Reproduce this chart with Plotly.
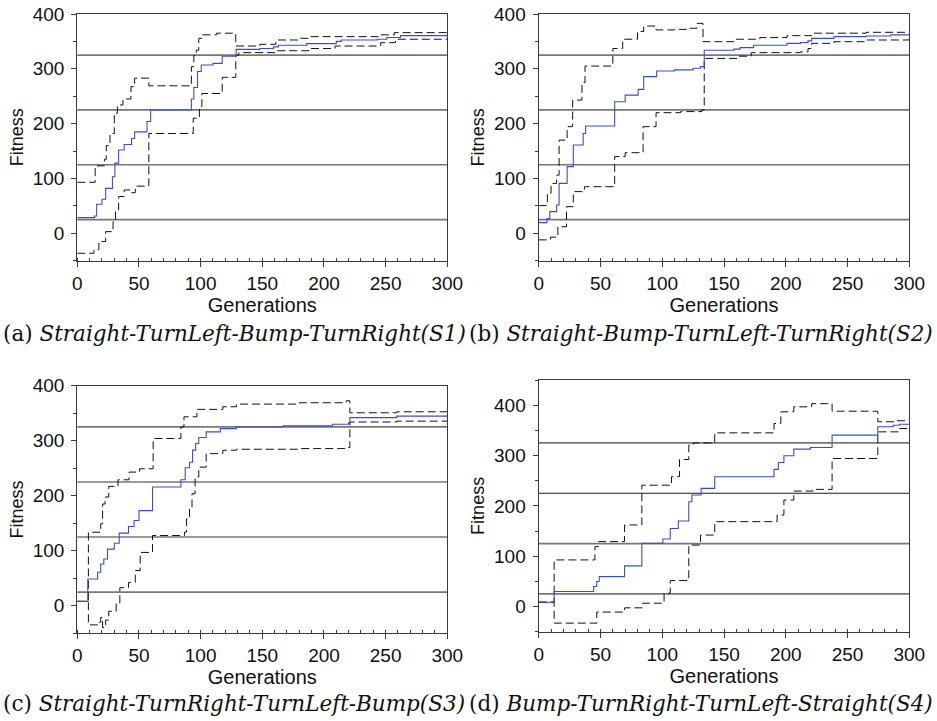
import plotly.graph_objects as go

# ---------------- data ----------------
thresholds = [25, 125, 225, 325]

a_mean_x = [0, 14, 15.7, 20, 23, 28.5, 30.5, 33.5, 38, 44, 46.5, 56.5, 59.5, 92.5, 94.5, 97.5, 100.5, 110, 117.5, 128.8, 148, 159, 163, 186, 210, 214, 243, 251, 262, 300]
a_mean_y = [28.6, 31.6, 53, 62, 82, 103, 128, 152, 162, 173, 185, 204, 225, 245, 266, 295, 307, 310, 323, 335.5, 337, 340, 343, 346, 350, 352.6, 354, 357, 360.5, 362]
a_up_x = [0, 14.5, 22, 23.5, 26.5, 30, 32.5, 37, 43.5, 46.5, 58, 92.5, 94.5, 96.5, 98.5, 101.5, 113, 128.5, 148, 161, 179, 188, 245, 257, 300]
a_up_y = [93, 123, 135, 160, 182, 219, 234, 245, 267.5, 283, 269, 304, 325, 334, 355.6, 362, 365, 341.6, 344.7, 352.6, 355.6, 358.7, 362, 366, 367.8]
a_lo_x = [0, 13.5, 17.5, 23, 29, 31, 33.5, 38, 43, 47, 58, 94, 99, 101, 117.5, 128.5, 131, 161, 188, 209, 246, 258, 300]
a_lo_y = [-36.5, -30, -15, 3, 21, 42.5, 67, 79, 74, 86, 182, 210, 231, 255, 284.5, 325, 329.5, 333, 337, 341.6, 347.7, 354, 355.6]

b_mean_x = [0, 6.7, 9, 14.5, 16.5, 23, 28, 36, 38, 61.5, 70, 80.5, 85, 95.5, 110, 125, 131, 134, 158, 163, 174, 201, 212, 218, 221, 239, 265, 285, 300]
b_mean_y = [19.5, 27, 39.5, 51.7, 91, 121.6, 161, 182, 195.7, 240, 252, 262.6, 285.7, 296, 298, 301, 304, 334, 336, 338.6, 343, 346.5, 348, 351, 355.6, 358.7, 360, 362, 363]
b_up_x = [0, 7, 10, 14.5, 16.5, 23, 27.5, 35, 37.5, 60, 68, 80, 85, 95, 110, 120, 128, 133, 158, 179, 201, 221, 265, 300]
b_up_y = [50.5, 73, 91, 106, 170, 194.5, 243, 275, 305, 337, 354, 368, 378, 371, 372, 374, 383, 349.5, 354, 357, 360.5, 365, 366.6, 367.8]
b_lo_x = [0, 9.5, 15.5, 22.5, 28, 37, 61.5, 70, 84.5, 95, 115, 132, 134, 160.5, 172, 212, 218, 221, 239, 265, 300]
b_lo_y = [-12, -7, 12, 48.6, 76, 85, 140, 147, 194.5, 220, 222, 225, 319, 323, 329.5, 331, 337, 346.5, 349.5, 352.6, 357.4]

c_mean_x = [0, 8.5, 16.5, 19, 21.5, 24.5, 30, 34, 41.5, 46, 50, 61, 84, 87.5, 91, 93.5, 96, 98.5, 104.5, 116, 129, 167, 207, 220, 221, 259, 300]
c_mean_y = [8, 48.6, 61, 76, 85, 103, 113.7, 132, 144, 155, 173, 216, 229, 251, 261, 283, 295, 305.8, 316, 322, 325, 327, 330, 332.5, 342, 344.7, 347.7]
c_up_x = [0, 9, 19, 20.5, 22.5, 25.5, 33, 42, 50.5, 61.5, 84, 86.5, 97, 118, 129, 180, 218, 221, 259, 300]
c_up_y = [8, 133.7, 149, 185, 197.6, 217, 229, 243, 249, 304, 325, 343.5, 357, 361.7, 366.6, 369, 372.6, 350.8, 352.6, 357]
c_lo_x = [0, 9, 17, 19, 20.5, 23, 25.5, 31.5, 34.5, 41.5, 47, 51, 61, 87, 88.5, 91, 93, 95.5, 98.5, 104.5, 118, 129, 180, 219.5, 221, 259, 300]
c_lo_y = [8, -34.7, -30, -21, -39.5, -26, -10, 4, 33, 42.5, 64, 97, 127.7, 133.7, 158, 179, 203.6, 234, 252, 276.6, 282.7, 284.5, 285.7, 287.5, 334, 335.6, 338.6]

d_mean_x = [0, 12.5, 44.5, 47, 49, 69.5, 83.5, 100.5, 106.5, 113, 121.5, 124, 131.5, 142.5, 190.5, 194, 198.5, 206.5, 220, 237.5, 274.5, 287, 292, 300]
d_mean_y = [8.6, 29.8, 39.7, 49.6, 59.5, 80.7, 125.6, 134, 155, 170, 208, 221.5, 234.7, 257.9, 272.4, 286, 299.5, 312.7, 316, 340.5, 357, 360, 362, 362]
d_up_x = [0, 12.5, 45.5, 48.5, 69.5, 83.5, 107.5, 114, 121.5, 125, 142.5, 190.5, 196, 206.5, 221, 237.5, 274.5, 289, 300]
d_up_y = [8.6, 92.6, 119, 129, 162, 241, 258, 292, 320.7, 325, 345, 363.6, 386.8, 396.7, 403, 388, 367, 369, 369]
d_lo_x = [0, 12.5, 47, 69.5, 84, 101.5, 106.5, 121.5, 131, 142.5, 193, 198.5, 206.5, 222, 237.5, 274.5, 292, 300]
d_lo_y = [8.6, -33, -11, -2.6, 6.6, 26.4, 51.6, 122, 142, 168.6, 181.8, 211.6, 229.4, 232.7, 294, 347, 353.7, 353.7]

captions = [
    "(a) <i>Straight-TurnLeft-Bump-TurnRight(S1)</i>",
    "(b) <i>Straight-Bump-TurnLeft-TurnRight(S2)</i>",
    "(c) <i>Straight-TurnRight-TurnLeft-Bump(S3)</i>",
    "(d) <i>Bump-TurnRight-TurnLeft-Straight(S4)</i>",
]
x_ticks = [0, 50, 100, 150, 200, 250, 300]
y_ticks = [0, 100, 200, 300, 400]

panels = [
    (a_mean_x, a_mean_y, a_up_x, a_up_y, a_lo_x, a_lo_y, [-50, 400]),
    (b_mean_x, b_mean_y, b_up_x, b_up_y, b_lo_x, b_lo_y, [-50, 400]),
    (c_mean_x, c_mean_y, c_up_x, c_up_y, c_lo_x, c_lo_y, [-50, 400]),
    (d_mean_x, d_mean_y, d_up_x, d_up_y, d_lo_x, d_lo_y, [-50, 450]),
]

# ---------------- layout geometry ----------------
W, H = 937, 721
px_boxes = [  # left, right, top, bottom in pixels
    (77.3, 447.3, 14, 260.7),
    (538.7, 909.3, 14, 260.7),
    (77.3, 447.3, 385.7, 633.3),
    (538.7, 909.3, 380, 631.7),
]
caption_pos = [(1, 333.5), (467, 333.5), (1, 703.5), (467, 703.5)]

BLUE = "#3a4fbf"
AXC = "#3a3a3a"
TXT = "#111111"
FONT = "Liberation Sans, Arial, sans-serif"

fig = go.Figure()
layout = dict(
    width=W, height=H, margin=dict(l=0, r=0, t=0, b=0),
    paper_bgcolor="white", plot_bgcolor="white", showlegend=False,
    font=dict(family=FONT, size=19, color=TXT),
)
shapes = []
annotations = []

for i, (mx, my, ux, uy, lx, ly, yr) in enumerate(panels):
    n = i + 1
    xs = "x" if n == 1 else f"x{n}"
    ys = "y" if n == 1 else f"y{n}"
    xa = "xaxis" if n == 1 else f"xaxis{n}"
    ya = "yaxis" if n == 1 else f"yaxis{n}"
    l, r, t, b = px_boxes[i]
    layout[xa] = dict(
        domain=[l / W, r / W], anchor=ys, range=[0, 300],
        tickmode="array", tickvals=x_ticks, ticks="outside", ticklen=5, tickwidth=1, tickcolor=AXC,
        minor=dict(dtick=10, ticks="inside", ticklen=3, tickwidth=1, tickcolor=AXC),
        showline=True, linecolor=AXC, linewidth=1.3, mirror=True, showgrid=False, zeroline=False,
        tickfont=dict(size=19, color=TXT), title=dict(text="Generations", font=dict(size=20, color=TXT), standoff=3),
        automargin=False,
    )
    layout[ya] = dict(
        domain=[1 - b / H, 1 - t / H], anchor=xs, range=yr,
        tickmode="array", tickvals=y_ticks, ticks="outside", ticklen=5, tickwidth=1, tickcolor=AXC,
        minor=dict(dtick=50, tick0=0, ticks="outside", ticklen=3, tickwidth=1, tickcolor=AXC),
        showline=True, linecolor=AXC, linewidth=1.3, mirror=True, showgrid=False, zeroline=False,
        tickfont=dict(size=19, color=TXT), ticklabelstandoff=3,
        title=dict(text="Fitness", font=dict(size=18, color=TXT), standoff=4),
        automargin=False,
    )
    for th in thresholds:
        dark = (n == 4 and th == 225)
        shapes.append(dict(
            type="line", xref=f"{xs} domain", yref=ys, x0=0, x1=1, y0=th, y1=th,
            line=dict(color="#1a1a1a" if dark else "#777777", width=1.2 if dark else 1.7),
            layer="below",
        ))
    fig.add_trace(go.Scatter(x=ux, y=uy, mode="lines", line=dict(color="#111111", width=1, dash="8px,4px", shape="hv"), xaxis=xs, yaxis=ys))
    fig.add_trace(go.Scatter(x=lx, y=ly, mode="lines", line=dict(color="#111111", width=1, dash="8px,4px", shape="hv"), xaxis=xs, yaxis=ys))
    fig.add_trace(go.Scatter(x=mx, y=my, mode="lines", line=dict(color=BLUE, width=1.1, shape="hv"), xaxis=xs, yaxis=ys))
    cx, cy = caption_pos[i]
    annotations.append(dict(
        text=captions[i], xref="paper", yref="paper", x=cx / W, y=1 - cy / H,
        xanchor="left", yanchor="middle", showarrow=False,
        font=dict(family="DejaVu Serif, serif", size=21.5, color=TXT),
    ))

layout["shapes"] = shapes
layout["annotations"] = annotations
fig.update_layout(**layout)
fig.write_html("out.html")
